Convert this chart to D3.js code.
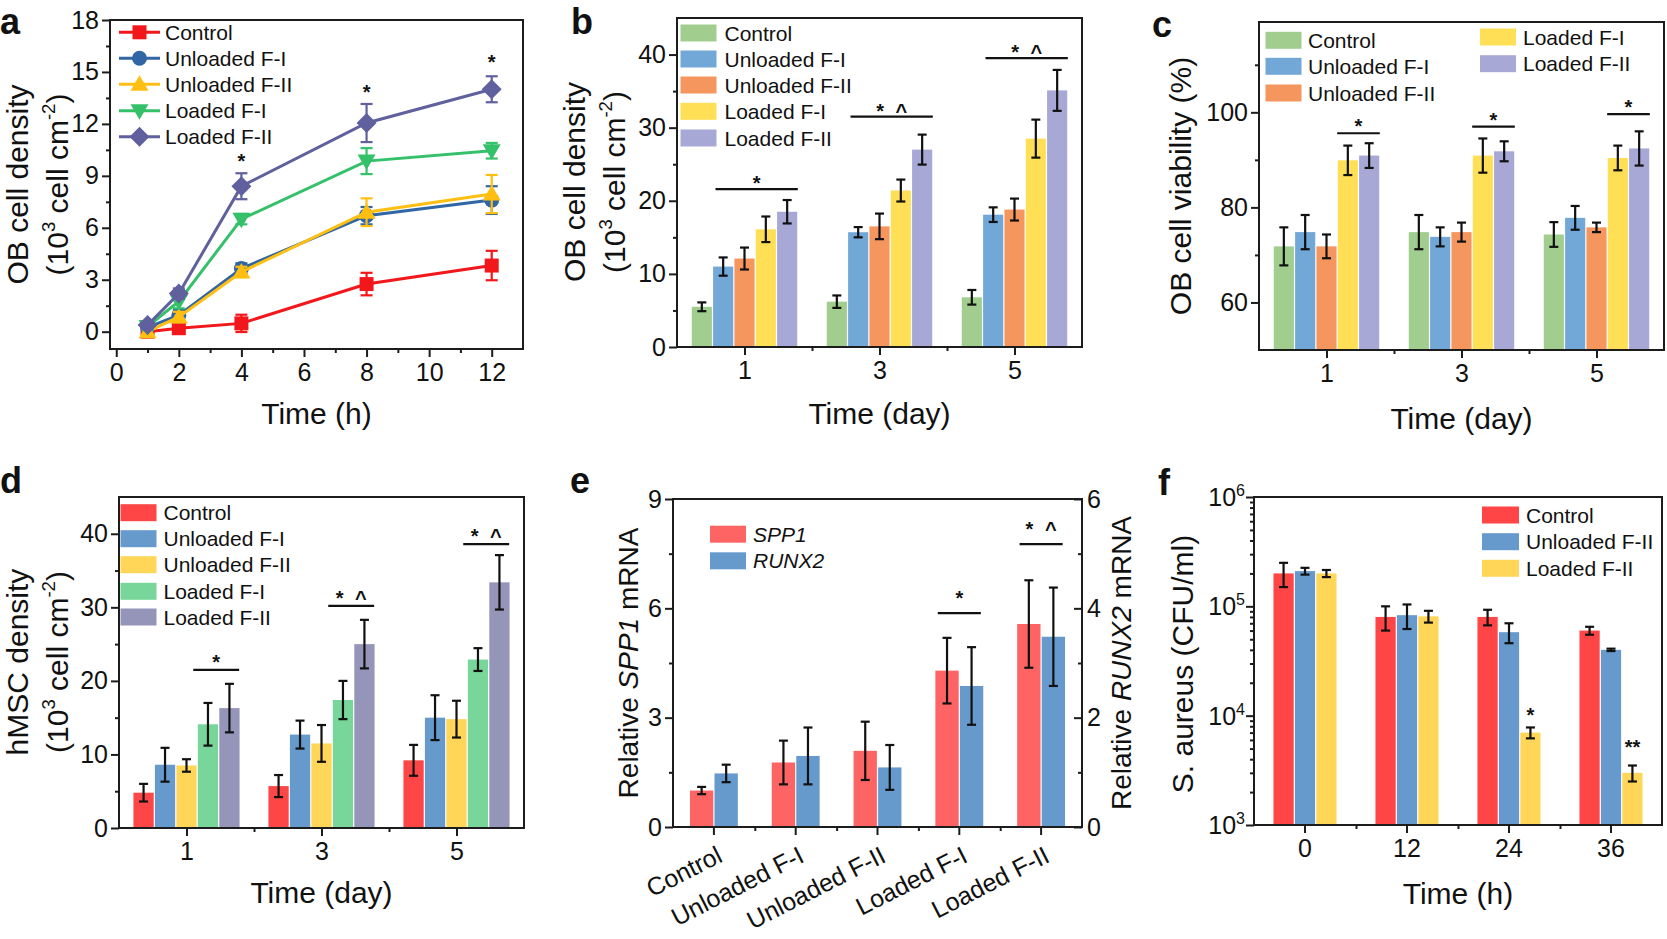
<!DOCTYPE html>
<html><head><meta charset="utf-8">
<script src="https://cdn.jsdelivr.net/npm/d3@7"></script>
<style>
body{margin:0;background:#fff;}
svg{display:block;font-family:"Liberation Sans",Arial,Helvetica,sans-serif;}
text{white-space:pre;}
</style></head><body>
<svg id="chart" width="1667" height="939"></svg>
<script>
// ================= DATA =================
const seriesNames = ["Control", "Unloaded F-I", "Unloaded F-II", "Loaded F-I", "Loaded F-II"];

// Panel a : OB cell density vs time (h)
const aTimes = [1, 2, 4, 8, 12];
const aControl = [0.0, 0.2, 0.48, 2.75, 3.82];
const aControlErr = [0.2, 0.3, 0.5, 0.65, 0.85];
const aUnloadedFI = [0.25, 0.95, 3.65, 6.7, 7.6];
const aUnloadedFIErr = [0.2, 0.3, 0.3, 0.5, 0.8];
const aUnloadedFII = [0.0, 0.85, 3.45, 6.9, 7.95];
const aUnloadedFIIErr = [0.2, 0.3, 0.3, 0.8, 1.1];
const aLoadedFI = [0.3, 1.75, 6.5, 9.85, 10.45];
const aLoadedFIErr = [0.2, 0.4, 0.3, 0.75, 0.45];
const aLoadedFII = [0.38, 2.2, 8.4, 12.05, 14.0];
const aLoadedFIIErr = [0.2, 0.3, 0.75, 1.1, 0.75];
const aStarTimes = [4, 8, 12];
const aStarY = [10.1, 14.1, 15.8];
const aXTicks = [0, 2, 4, 6, 8, 10, 12];
const aYTicks = [0, 3, 6, 9, 12, 15, 18];

// Days for panels b, c, d
const dayGroups = [1, 3, 5];

// Panel b : OB cell density (day)
const bControl = [5.5, 6.2, 6.8];
const bControlErr = [0.6, 0.85, 1.0];
const bUnloadedFI = [11.0, 15.7, 18.1];
const bUnloadedFIErr = [1.25, 0.7, 1.0];
const bUnloadedFII = [12.1, 16.5, 18.8];
const bUnloadedFIIErr = [1.5, 1.75, 1.5];
const bLoadedFI = [16.1, 21.4, 28.5];
const bLoadedFIErr = [1.75, 1.5, 2.6];
const bLoadedFII = [18.5, 27.0, 35.1];
const bLoadedFIIErr = [1.6, 2.05, 2.8];
const bSigY = [21.6, 31.5, 39.5];
const bSigLabels = ["*", "* ^", "* ^"];
const bYTicks = [0, 10, 20, 30, 40];

// Panel c : OB cell viability (%)
const cControl = [71.8, 74.8, 74.3];
const cControlErr = [4.0, 3.6, 2.6];
const cUnloadedFI = [74.8, 73.8, 77.8];
const cUnloadedFIErr = [3.6, 2.0, 2.5];
const cUnloadedFII = [71.8, 74.8, 75.8];
const cUnloadedFIIErr = [2.5, 2.0, 1.0];
const cLoadedFI = [89.9, 90.9, 90.4];
const cLoadedFIErr = [3.1, 3.6, 2.6];
const cLoadedFII = [90.9, 91.8, 92.4];
const cLoadedFIIErr = [2.6, 2.1, 3.6];
const cSigY = [95.6, 97.0, 99.6];
const cSigLabels = ["*", "*", "*"];
const cYTicks = [60, 80, 100];

// Panel d : hMSC density
const dControl = [4.8, 5.7, 9.2];
const dControlErr = [1.2, 1.5, 2.1];
const dUnloadedFI = [8.6, 12.7, 15.0];
const dUnloadedFIErr = [2.3, 1.9, 3.05];
const dUnloadedFII = [8.5, 11.5, 14.8];
const dUnloadedFIIErr = [0.85, 2.5, 2.5];
const dLoadedFI = [14.1, 17.4, 22.9];
const dLoadedFIErr = [2.9, 2.6, 1.55];
const dLoadedFII = [16.3, 25.0, 33.4];
const dLoadedFIIErr = [3.3, 3.3, 3.7];
const dSigY = [21.5, 30.2, 38.6];
const dSigLabels = ["*", "* ^", "* ^"];
const dYTicks = [0, 10, 20, 30, 40];

// Panel e : relative mRNA
const eCategories = ["Control", "Unloaded F-I", "Unloaded F-II", "Loaded F-I", "Loaded F-II"];
const eSPP1 = [1.0, 1.77, 2.09, 4.29, 5.57];
const eSPP1Err = [0.1, 0.6, 0.8, 0.9, 1.2];
const eRUNX2 = [0.98, 1.30, 1.09, 2.58, 3.48];
const eRUNX2Err = [0.16, 0.52, 0.41, 0.71, 0.9];
const eSigCategories = ["Loaded F-I", "Loaded F-II"];
const eSigY = [5.87, 7.76];
const eSigLabels = ["*", "* ^"];
const eLeftTicks = [0, 3, 6, 9];
const eRightTicks = [0, 2, 4, 6];

// Panel f : S. aureus (CFU/ml)
const fTimes = ["0", "12", "24", "36"];
const fSeriesNames = ["Control", "Unloaded F-II", "Loaded F-II"];
const fControl = [2.0e5, 8.0e4, 8.0e4, 6.0e4];
const fControlErr = [5.0e4, 2.0e4, 1.3e4, 0.5e4];
const fUnloadedFII = [2.1e5, 8.3e4, 5.8e4, 4.0e4];
const fUnloadedFIIErr = [1.5e4, 2.1e4, 1.2e4, 0.1e4];
const fLoadedFII = [2.0e5, 8.1e4, 7.0e3, 3.0e3];
const fLoadedFIIErr = [1.5e4, 1.0e4, 0.8e3, 0.5e3];
const fStarTimes = ["24", "36"];
const fStarY = [1.1e4, 5.6e3];
const fStarLabels = ["*", "**"];
const fYTicks = [1e3, 1e4, 1e5, 1e6];

// ================= HELPERS =================
const FONT = '"Liberation Sans", Arial, Helvetica, sans-serif';
const AX = "#1c1c1c";
const TICK_FS = 25;
const TITLE_FS = 30;
const svg = d3.select("#chart");
const intFmt = d3.format("d");

function styleAxis(sel, fs) {
  sel.select("path.domain").remove();
  sel.selectAll(".tick line").attr("stroke", AX).attr("stroke-width", 2);
  sel.selectAll(".tick text").attr("font-size", fs).attr("font-family", FONT).attr("fill", "#111");
}
function addAxis(g, axis, tx, ty, fs) {
  const s = g.append("g").attr("transform", `translate(${tx},${ty})`).call(axis);
  styleAxis(s, fs || TICK_FS);
  return s;
}
function frame(g, L, T, R, B) {
  g.append("rect").attr("x", L).attr("y", T).attr("width", R - L).attr("height", B - T)
    .attr("fill", "none").attr("stroke", AX).attr("stroke-width", 2);
}
function errBar(g, cx, yTop, yBot, cap, color, w) {
  g.append("line").attr("x1", cx).attr("x2", cx).attr("y1", yTop).attr("y2", yBot)
    .attr("stroke", color).attr("stroke-width", w);
  [yTop, yBot].forEach(yy => g.append("line").attr("x1", cx - cap).attr("x2", cx + cap)
    .attr("y1", yy).attr("y2", yy).attr("stroke", color).attr("stroke-width", w));
}
function sigMark(g, x0, x1, yLine, label, dy) {
  g.append("line").attr("x1", x0).attr("x2", x1).attr("y1", yLine).attr("y2", yLine)
    .attr("stroke", "#111").attr("stroke-width", 2.2);
  g.append("text").attr("x", (x0 + x1) / 2).attr("y", yLine + dy).attr("text-anchor", "middle")
    .attr("font-size", 20).attr("font-weight", "bold").attr("word-spacing", 6)
    .attr("font-family", FONT).attr("fill", "#111").text(label);
}
function richText(g, x, y, segs, fs, opts) {
  opts = opts || {};
  const t = g.append("text").attr("font-size", fs).attr("font-family", FONT).attr("fill", "#111")
    .attr("text-anchor", opts.anchor || "middle");
  if (opts.rotate) t.attr("transform", `translate(${x},${y}) rotate(${opts.rotate})`);
  else t.attr("x", x).attr("y", y);
  let raised = false;
  segs.forEach(s => {
    const ts = t.append("tspan").text(s.t);
    if (s.it) ts.attr("font-style", "italic");
    if (s.sup) { ts.attr("font-size", fs * 0.62).attr("dy", -fs * 0.42); raised = true; }
    else if (raised) { ts.attr("dy", fs * 0.42); raised = false; }
  });
  return t;
}
function label(g, t, x, y, fs, extra) {
  const e = g.append("text").attr("x", x).attr("y", y).attr("font-size", fs).attr("font-family", FONT)
    .attr("fill", "#111").text(t);
  if (extra) Object.entries(extra).forEach(([k, v]) => e.attr(k, v));
  return e;
}
function drawSym(g, type, cx, cy, color) {
  let p;
  if (type === "square") p = g.append("rect").attr("x", cx - 7).attr("y", cy - 7).attr("width", 14).attr("height", 14);
  else if (type === "circle") p = g.append("circle").attr("cx", cx).attr("cy", cy).attr("r", 7.5);
  else if (type === "tri") p = g.append("path").attr("d", `M${cx},${cy - 9}L${cx + 9},${cy + 6.5}L${cx - 9},${cy + 6.5}Z`);
  else if (type === "tridown") p = g.append("path").attr("d", `M${cx},${cy + 9}L${cx + 9},${cy - 6.5}L${cx - 9},${cy - 6.5}Z`);
  else p = g.append("path").attr("d", `M${cx},${cy - 10}L${cx + 10},${cy}L${cx},${cy + 10}L${cx - 10},${cy}Z`);
  p.attr("fill", color);
}
const densityTitle = [{t: "(10"}, {t: "3", sup: true}, {t: " cell cm"}, {t: "-2", sup: true}, {t: ")"}];

// ================= PANEL a =================
(function () {
  const L = 110, R = 523, T = 20, B = 349;
  const g = svg.append("g");
  const x = d3.scaleLinear().domain([-0.2, 13]).range([L, R]);
  const y = d3.scaleLinear().domain([-1, 18]).range([B, T]);
  const series = [
    {vals: aControl, errs: aControlErr, color: "#F2171B", sym: "square"},
    {vals: aUnloadedFI, errs: aUnloadedFIErr, color: "#2F66A3", sym: "circle"},
    {vals: aUnloadedFII, errs: aUnloadedFIIErr, color: "#FFBF12", sym: "tri"},
    {vals: aLoadedFI, errs: aLoadedFIErr, color: "#35C06A", sym: "tridown"},
    {vals: aLoadedFII, errs: aLoadedFIIErr, color: "#60609E", sym: "diamond"}
  ];
  const line = d3.line().x((d, i) => x(aTimes[i])).y(d => y(d));
  series.forEach(s => {
    g.append("path").datum(s.vals).attr("d", line).attr("fill", "none").attr("stroke", s.color).attr("stroke-width", 3);
    s.vals.forEach((v, i) => errBar(g, x(aTimes[i]), y(v + s.errs[i]), y(v - s.errs[i]), 6, s.color, 2.2));
    s.vals.forEach((v, i) => drawSym(g, s.sym, x(aTimes[i]), y(v), s.color));
  });
  aStarTimes.forEach((t, i) => label(g, "*", x(t), y(aStarY[i]) + 11, 20, {"text-anchor": "middle", "font-weight": "bold"}));
  // legend
  const rows = [32.3, 58.3, 84.3, 110.7, 136.7];
  series.forEach((s, i) => {
    g.append("line").attr("x1", 119).attr("x2", 160).attr("y1", rows[i]).attr("y2", rows[i]).attr("stroke", s.color).attr("stroke-width", 3);
    drawSym(g, s.sym, 139.5, rows[i], s.color);
    label(g, seriesNames[i], 165, rows[i] + 7.5, 21);
  });
  addAxis(g, d3.axisLeft(y).tickValues(aYTicks).tickSize(8).tickPadding(3), L, 0);
  addAxis(g, d3.axisLeft(y).tickValues([1.5, 4.5, 7.5, 10.5, 13.5, 16.5]).tickSize(4).tickFormat(""), L, 0);
  addAxis(g, d3.axisBottom(x).tickValues(aXTicks).tickSize(8).tickPadding(6), 0, B);
  addAxis(g, d3.axisBottom(x).tickValues([1, 3, 5, 7, 9, 11]).tickSize(4).tickFormat(""), 0, B);
  frame(g, L, T, R, B);
  richText(g, 27.5, (T + B) / 2, [{t: "OB cell density"}], TITLE_FS, {rotate: -90});
  richText(g, 68, (T + B) / 2, densityTitle, TITLE_FS, {rotate: -90});
  richText(g, (L + R) / 2, 424, [{t: "Time (h)"}], TITLE_FS);
  label(g, "a", 0, 34, 36, {"font-weight": "bold"});
})();

// ================= PANELS b, c, d =================
function dayBars(cfg) {
  const g = svg.append("g");
  const x = d3.scaleLinear().domain([0, 6]).range([cfg.L, cfg.R]);
  const y = d3.scaleLinear().domain(cfg.yDomain).range([cfg.B, cfg.T]);
  const unit = x(1) - x(0);
  const bw = cfg.barUnits * unit;
  const n = cfg.series.length;
  const cxOf = (i, d) => x(d) + (i - (n - 1) / 2) * bw;
  const y0 = y(cfg.yDomain[0]);
  cfg.series.forEach((s, i) => {
    dayGroups.forEach((d, j) => {
      const yv = y(s.vals[j]);
      g.append("rect").attr("x", cxOf(i, d) - bw / 2 + 0.6).attr("width", bw - 1.2)
        .attr("y", yv).attr("height", y0 - yv).attr("fill", s.color);
    });
  });
  cfg.series.forEach((s, i) => {
    dayGroups.forEach((d, j) => errBar(g, cxOf(i, d), y(s.vals[j] + s.errs[j]), y(s.vals[j] - s.errs[j]), 4.5, "#111", 2.2));
  });
  dayGroups.forEach((d, j) => {
    const x0 = cxOf(cfg.sigFrom, d) - bw / 2 - cfg.sigExt[0];
    const x1 = cxOf(cfg.sigTo, d) + bw / 2 + cfg.sigExt[1];
    sigMark(g, x0, x1, y(cfg.sigY[j]), cfg.sigLabels[j], cfg.sigDy);
  });
  cfg.legend.forEach((it, i) => {
    g.append("rect").attr("x", it.rx).attr("y", it.cy - 8.5).attr("width", 36).attr("height", 17).attr("fill", cfg.series[i].color);
    label(g, seriesNames[i], it.tx, it.cy + 7.5, 21);
  });
  addAxis(g, d3.axisLeft(y).tickValues(cfg.yTicks).tickSize(8).tickPadding(3), cfg.L, 0);
  addAxis(g, d3.axisLeft(y).tickValues(cfg.yMinor).tickSize(4).tickFormat(""), cfg.L, 0);
  addAxis(g, d3.axisBottom(x).tickValues(dayGroups).tickFormat(intFmt).tickSize(8).tickPadding(6), 0, cfg.B);
  addAxis(g, d3.axisBottom(x).tickValues([2, 4]).tickSize(4).tickFormat(""), 0, cfg.B);
  frame(g, cfg.L, cfg.T, cfg.R, cfg.B);
  cfg.yTitle.forEach(t => richText(g, t.x, cfg.yTitleC, t.segs, TITLE_FS, {rotate: -90}));
  richText(g, (cfg.L + cfg.R) / 2, cfg.xTitleY, [{t: "Time (day)"}], TITLE_FS);
  label(g, cfg.letter.t, cfg.letter.x, cfg.letter.y, 36, {"font-weight": "bold"});
}

const bcColors = ["#A1CE8F", "#72A8D8", "#F5965F", "#FFDF55", "#A8A8D7"];
dayBars({
  L: 677, R: 1082, T: 18, B: 347, yDomain: [0, 45], yTicks: bYTicks, yMinor: [5, 15, 25, 35],
  series: [
    {vals: bControl, errs: bControlErr, color: bcColors[0]},
    {vals: bUnloadedFI, errs: bUnloadedFIErr, color: bcColors[1]},
    {vals: bUnloadedFII, errs: bUnloadedFIIErr, color: bcColors[2]},
    {vals: bLoadedFI, errs: bLoadedFIErr, color: bcColors[3]},
    {vals: bLoadedFII, errs: bLoadedFIIErr, color: bcColors[4]}],
  barUnits: 0.316, sigFrom: 1, sigTo: 4, sigExt: [-3, 0], sigY: bSigY, sigLabels: bSigLabels, sigDy: 1,
  legend: [33, 59, 85, 111.3, 138].map(cy => ({rx: 680.5, tx: 724.5, cy})),
  yTitle: [{x: 585, segs: [{t: "OB cell density"}]}, {x: 625, segs: densityTitle}], yTitleC: 182,
  xTitleY: 424, letter: {t: "b", x: 571, y: 34}
});

dayBars({
  L: 1259, R: 1664, T: 22, B: 350, yDomain: [50, 119], yTicks: cYTicks, yMinor: [70, 90, 110],
  series: [
    {vals: cControl, errs: cControlErr, color: bcColors[0]},
    {vals: cUnloadedFI, errs: cUnloadedFIErr, color: bcColors[1]},
    {vals: cUnloadedFII, errs: cUnloadedFIIErr, color: bcColors[2]},
    {vals: cLoadedFI, errs: cLoadedFIErr, color: bcColors[3]},
    {vals: cLoadedFII, errs: cLoadedFIIErr, color: bcColors[4]}],
  barUnits: 0.316, sigFrom: 3, sigTo: 4, sigExt: [0, 0], sigY: cSigY, sigLabels: cSigLabels, sigDy: 0,
  legend: [{rx: 1265.5, tx: 1308, cy: 40.3}, {rx: 1265.5, tx: 1308, cy: 66.3}, {rx: 1265.5, tx: 1308, cy: 93},
           {rx: 1480, tx: 1523, cy: 37}, {rx: 1480, tx: 1523, cy: 63.7}],
  yTitle: [{x: 1191, segs: [{t: "OB cell viability (%)"}]}], yTitleC: 186,
  xTitleY: 429, letter: {t: "c", x: 1152, y: 37}
});

dayBars({
  L: 119, R: 524, T: 497, B: 828, yDomain: [0, 45], yTicks: dYTicks, yMinor: [5, 15, 25, 35],
  series: [
    {vals: dControl, errs: dControlErr, color: "#FF4646"},
    {vals: dUnloadedFI, errs: dUnloadedFIErr, color: "#6699CC"},
    {vals: dUnloadedFII, errs: dUnloadedFIIErr, color: "#FFD658"},
    {vals: dLoadedFI, errs: dLoadedFIErr, color: "#78D69A"},
    {vals: dLoadedFII, errs: dLoadedFIIErr, color: "#9595B9"}],
  barUnits: 0.318, sigFrom: 3, sigTo: 4, sigExt: [4, -1], sigY: dSigY, sigLabels: dSigLabels, sigDy: -1,
  legend: [512.7, 538.7, 564.7, 591.3, 617].map(cy => ({rx: 120.5, tx: 163.5, cy})),
  yTitle: [{x: 28, segs: [{t: "hMSC density"}]}, {x: 68, segs: densityTitle}], yTitleC: 662,
  xTitleY: 903, letter: {t: "d", x: 0, y: 493}
});

// ================= PANEL e =================
(function () {
  const L = 673, R = 1082, T = 499, B = 827;
  const g = svg.append("g");
  const x = d3.scaleBand().domain(eCategories).range([L, R]).padding(0);
  const yL = d3.scaleLinear().domain([0, 9]).range([B, T]);
  const yR = d3.scaleLinear().domain([0, 6]).range([B, T]);
  const bw = x.bandwidth() * 0.3;
  const c = d => x(d) + x.bandwidth() / 2;
  const cols = ["#FF6464", "#6699CC"];
  eCategories.forEach((cat, i) => {
    g.append("rect").attr("x", c(cat) - bw + 0.6).attr("width", bw - 1.2).attr("y", yL(eSPP1[i])).attr("height", B - yL(eSPP1[i])).attr("fill", cols[0]);
    g.append("rect").attr("x", c(cat) + 0.6).attr("width", bw - 1.2).attr("y", yR(eRUNX2[i])).attr("height", B - yR(eRUNX2[i])).attr("fill", cols[1]);
  });
  eCategories.forEach((cat, i) => {
    errBar(g, c(cat) - bw / 2, yL(eSPP1[i] + eSPP1Err[i]), yL(eSPP1[i] - eSPP1Err[i]), 4.5, "#111", 2.2);
    errBar(g, c(cat) + bw / 2, yR(eRUNX2[i] + eRUNX2Err[i]), yR(eRUNX2[i] - eRUNX2Err[i]), 4.5, "#111", 2.2);
  });
  eSigCategories.forEach((cat, i) => sigMark(g, c(cat) - bw + 3, c(cat) + bw - 3, yL(eSigY[i]), eSigLabels[i], -8));
  // legend
  [{n: "SPP1", cy: 534.2}, {n: "RUNX2", cy: 560.8}].forEach((it, i) => {
    g.append("rect").attr("x", 710).attr("y", it.cy - 8.5).attr("width", 36).attr("height", 17).attr("fill", cols[i]);
    label(g, it.n, 753, it.cy + 7.5, 21, {"font-style": "italic"});
  });
  addAxis(g, d3.axisLeft(yL).tickValues(eLeftTicks).tickSize(8).tickPadding(3), L, 0);
  addAxis(g, d3.axisLeft(yL).tickValues([1.5, 4.5, 7.5]).tickSize(4).tickFormat(""), L, 0);
  addAxis(g, d3.axisRight(yR).tickValues(eRightTicks).tickFormat(intFmt).tickSize(-8).tickPadding(5), R, 0);
  addAxis(g, d3.axisRight(yR).tickValues([1, 3, 5]).tickSize(-4).tickFormat(""), R, 0);
  const xa = addAxis(g, d3.axisBottom(x).tickSize(8).tickPadding(7), 0, B, 25);
  xa.selectAll(".tick text").attr("x", 0).attr("y", 0).attr("dy", 0)
    .attr("transform", "translate(10,34) rotate(-27)").attr("text-anchor", "end");
  const xm = d3.scaleLinear().domain([0, 5]).range([L, R]);
  addAxis(g, d3.axisBottom(xm).tickValues([1, 2, 3, 4]).tickSize(4).tickFormat(""), 0, B);
  frame(g, L, T, R, B);
  richText(g, 638, (T + B) / 2, [{t: "Relative "}, {t: "SPP1", it: true}, {t: " mRNA"}], 28, {rotate: -90});
  richText(g, 1131, (T + B) / 2, [{t: "Relative "}, {t: "RUNX2", it: true}, {t: " mRNA"}], 28, {rotate: -90});
  label(g, "e", 570, 493, 36, {"font-weight": "bold"});
})();

// ================= PANEL f =================
(function () {
  const L = 1254, R = 1662, T = 497, B = 825;
  const g = svg.append("g");
  const x = d3.scaleBand().domain(fTimes).range([L, R]).padding(0);
  const y = d3.scaleLog().domain([1e3, 1e6]).range([B, T]);
  const bw = x.bandwidth() * 0.21;
  const series = [
    {vals: fControl, errs: fControlErr, color: "#FF4545"},
    {vals: fUnloadedFII, errs: fUnloadedFIIErr, color: "#6699CC"},
    {vals: fLoadedFII, errs: fLoadedFIIErr, color: "#FFD658"}
  ];
  const cxOf = (i, t) => x(t) + x.bandwidth() / 2 + (i - 1) * bw;
  series.forEach((s, i) => fTimes.forEach((t, j) => {
    g.append("rect").attr("x", cxOf(i, t) - bw / 2 + 0.6).attr("width", bw - 1.2)
      .attr("y", y(s.vals[j])).attr("height", B - y(s.vals[j])).attr("fill", s.color);
  }));
  series.forEach((s, i) => fTimes.forEach((t, j) =>
    errBar(g, cxOf(i, t), y(s.vals[j] + s.errs[j]), y(s.vals[j] - s.errs[j]), 4.5, "#111", 2.2)));
  fStarTimes.forEach((t, i) => label(g, fStarLabels[i], cxOf(2, t), y(fStarY[i]) + 11, 20, {"text-anchor": "middle", "font-weight": "bold"}));
  [515, 541.7, 568.3].forEach((cy, i) => {
    g.append("rect").attr("x", 1482).attr("y", cy - 8.5).attr("width", 37).attr("height", 17).attr("fill", series[i].color);
    label(g, fSeriesNames[i], 1526, cy + 7.5, 21);
  });
  const minors = [];
  [1e3, 1e4, 1e5].forEach(dec => { for (let k = 2; k <= 9; k++) minors.push(dec * k); });
  addAxis(g, d3.axisLeft(y).tickValues(fYTicks).tickSize(8).tickFormat(""), L, 0);
  addAxis(g, d3.axisLeft(y).tickValues(minors).tickSize(4).tickFormat(""), L, 0);
  fYTicks.forEach(v => {
    const t = g.append("text").attr("x", L - 9).attr("y", y(v) + 9).attr("text-anchor", "end")
      .attr("font-size", TICK_FS).attr("font-family", FONT).attr("fill", "#111");
    t.append("tspan").text("10");
    t.append("tspan").attr("font-size", 16).attr("dy", -10).text(String(Math.round(Math.log10(v))));
  });
  addAxis(g, d3.axisBottom(x).tickSize(8).tickPadding(6), 0, B);
  const xm = d3.scaleLinear().domain([0, 4]).range([L, R]);
  addAxis(g, d3.axisBottom(xm).tickValues([1, 2, 3]).tickSize(4).tickFormat(""), 0, B);
  frame(g, L, T, R, B);
  richText(g, 1193, 664, [{t: "S. aureus (CFU/ml)"}], TITLE_FS, {rotate: -90});
  richText(g, (L + R) / 2, 904, [{t: "Time (h)"}], TITLE_FS);
  label(g, "f", 1158, 495, 36, {"font-weight": "bold"});
})();
</script></body></html>
